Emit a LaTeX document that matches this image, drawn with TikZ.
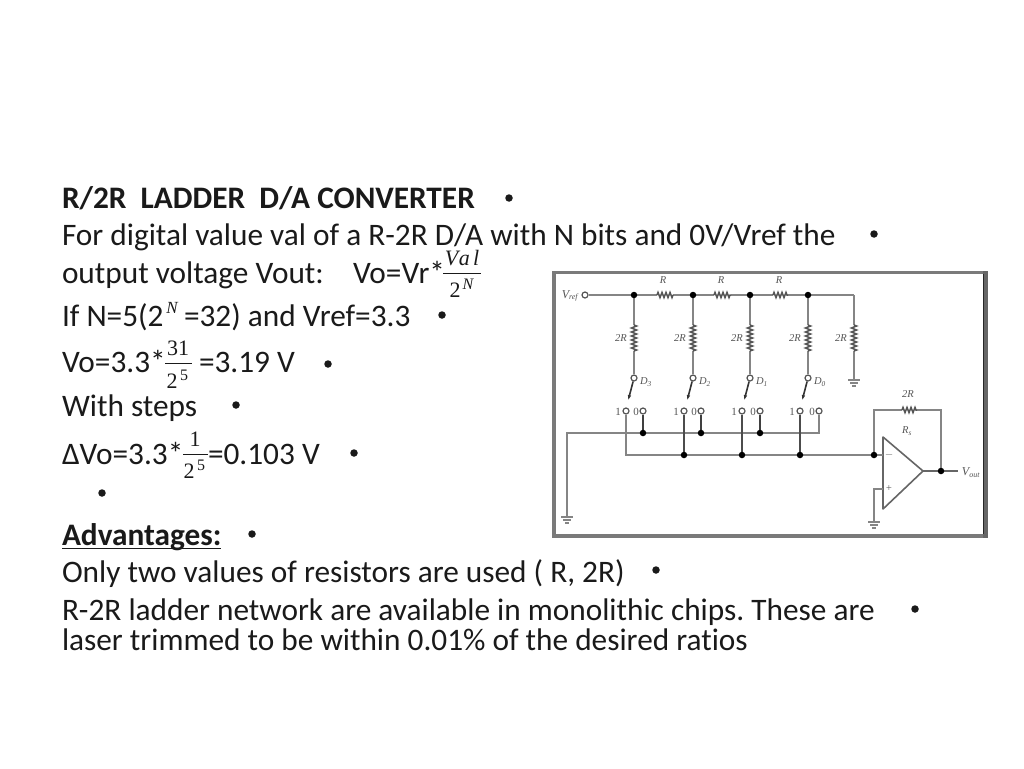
\documentclass[tikz,border=0pt]{standalone}
\usepackage{fontspec}
\setmainfont[Ligatures=NoCommon]{Carlito}
\newfontfamily\mathfont{Liberation Serif}
\newfontfamily\mathspaced[LetterSpace=14]{Liberation Serif}
\usetikzlibrary{decorations.pathmorphing,arrows.meta}
\pgfdeclarelayer{front}
\pgfsetlayers{main,front}
\definecolor{txt}{HTML}{1A1A1A}
\definecolor{wire}{HTML}{858585}
\definecolor{lab}{HTML}{555555}
\frenchspacing
\tikzset{
  line/.style={anchor=base west,inner sep=0pt,outer sep=0pt,text=txt,font=\fontsize{31.3}{33}\selectfont},
  boldline/.style={line,font=\bfseries\fontsize{31.3}{33}\selectfont},
  mth/.style={anchor=base,inner sep=0pt,outer sep=0pt,text=txt,font=\mathfont\fontsize{22}{23}\selectfont},
  bul/.style={circle,fill=txt,inner sep=0pt,minimum size=7.5pt},
  fbar/.style={draw=txt,line width=1pt},
  wr/.style={draw=wire,line width=1.7pt},
  res/.style={draw=lab,line width=1.5pt,decorate,decoration={zigzag,amplitude=2.6pt,segment length=4pt}},
  dotn/.style={circle,fill=black,inner sep=0pt,minimum size=6.5pt},
  term/.style={circle,draw=lab,fill=white,line width=1.2pt,inner sep=0pt,minimum size=6pt},
  clab/.style={inner sep=0pt,text=lab,font=\mathfont\itshape\fontsize{10.5}{11}\selectfont},
  dlab/.style={inner sep=0pt,text=lab,font=\mathfont\fontsize{11}{11}\selectfont},
  arm/.style={draw=black!80,line width=1.6pt},
  gnd/.style={draw=wire,line width=1.3pt}
}
\begin{document}
\begin{tikzpicture}[x=1pt,y=-1pt]
\useasboundingbox[fill=white] (0,0) rectangle (1024,768);
% text
\node[boldline] (t1) at (62,208) {R/2R\ \ LADDER\ \ D/A CONVERTER};
\node[line] (t2) at (62,245) {For digital value val of a R-2R D/A with N bits and 0V/Vref the};
\node[line] (t3) at (62,283) {output voltage Vout:};
\node[line] (t3b) at (353,283) {Vo=Vr*};
\node[line] (t4) at (62,326) {If N=5(2};
\node[mth,font=\mathfont\itshape\fontsize{17}{18}\selectfont] (t4n) at (172,313) {N};
\node[line] (t4b) at (184,326) {=32) and Vref=3.3};
\node[line] (t5) at (62,372) {Vo=3.3*};
\node[line] (t5b) at (199,372) {=3.19 V};
\node[line] (t6) at (62,416) {With steps};
\node[line] (t7) at (62,464) {ΔVo=3.3*};
\node[line] (t7b) at (208,464) {=0.103 V};
\node[boldline] (t8) at (62,545) {Advantages:};
\draw[txt,line width=1.4pt] ([yshift=-3.5pt]t8.base west) -- ([yshift=-3.5pt]t8.base east);
\node[line] (t9) at (62,582) {Only two values of resistors are used ( R, 2R)};
\node[line] (t10) at (62,620) {R-2R ladder network are available in monolithic chips. These are};
\node[line] (t11) at (62,650) {laser trimmed to be within 0.01\% of the desired ratios};
% fractions
\node[mth,font=\mathspaced\itshape\fontsize{22}{23}\selectfont] (f1a) at (462,265) {Val};
\draw[fbar] (443,273) -- (481,273);
\node[mth] (f1b) at (455,297) {2};
\node[mth,font=\mathfont\itshape\fontsize{16}{16}\selectfont] (f1c) at (468,289) {N};
\node[mth] (f2a) at (178,355) {31};
\draw[fbar] (165,363) -- (192,363);
\node[mth] (f2b) at (172,388) {2};
\node[mth,font=\mathfont\fontsize{16}{16}\selectfont] (f2c) at (184,380) {5};
\node[mth] (f3a) at (195,446) {1};
\draw[fbar] (183,454) -- (208,454);
\node[mth] (f3b) at (189,478) {2};
\node[mth,font=\mathfont\fontsize{16}{16}\selectfont] (f3c) at (201,470) {5};
% bullets
\foreach \n/\x/\y in {a/509/198,b/874/234,c/442/315,d/328/364,e/236/405,f/354/453,g/102/493,h/252/534,i/656/570,j/915/609}
  \node[bul] (b\n) at (\x,\y) {};
% frame
\fill[black!52] (552,271) rectangle (988,274);
\fill[black!52] (552,271) rectangle (556,538);
\fill[black!52] (552,534) rectangle (988,538);
\fill[black!60] (983,271) rectangle (988,538);
\draw[black!85,line width=0.8pt] (983,274) -- (983,534);
% nodes on top of wires
\begin{pgfonlayer}{front}
\node[dotn] (n3) at (634,295) {};
\node[dotn] (n2) at (693,295) {};
\node[dotn] (n1) at (750,295) {};
\node[dotn] (n0) at (808,295) {};
\node[dotn] (d3) at (643,433) {};
\node[dotn] (d2) at (701,433) {};
\node[dotn] (d1) at (760,433) {};
\node[dotn] (e2) at (684,455) {};
\node[dotn] (e1) at (742,455) {};
\node[dotn] (e0) at (800,455) {};
\node[dotn] (e4) at (874,455) {};
\node[dotn] (e5) at (941,471) {};
\end{pgfonlayer}
% top rail
\node[term] (vr) at (585,295) {};
\coordinate (nt) at (854,295);
\draw[wr] (vr) -- (n3);
\draw[wr] (n3) -- (657,295) (673,295) -- (n2) -- (714,295) (731,295) -- (n1) -- (773,295) (788,295) -- (n0) -- (nt);
\draw[res] (657,295) -- (673,295);
\draw[res] (714,295) -- (731,295);
\draw[res] (773,295) -- (788,295);
\node[clab,font=\mathfont\itshape\fontsize{12}{12}\selectfont] (vl) at (570,296) {V\textsubscript{ref}};
\node[clab] (r1) at (663,280) {R};
\node[clab] (r2) at (721,280) {R};
\node[clab] (r3) at (779,280) {R};
% vertical branches
\foreach \i/\x/\lb in {3/634/3,2/693/2,1/750/1,0/808/0}{
  \node[term] (s\i) at (\x,378) {};
  \draw[wr] (n\i) -- (\x,325) (\x,351) -- (s\i);
  \draw[res] (\x,325) -- (\x,351);
  \node[clab] (q\i) at (\x-13,338) {2R};
  \node[clab] (dl\i) at (\x+12,382) {D\textsubscript{\lb}};
}
\draw[wr] (nt) -- (854,325) (854,351) -- (854,380);
\draw[res] (854,325) -- (854,351);
\node[clab] (q4) at (841,338) {2R};
% contacts and switch arms
\foreach \i/\x/\xa/\xb in {3/634/626/643,2/693/684/701,1/750/742/760,0/808/800/819}{
  \node[term] (c\i) at (\xa,411) {};
  \node[term] (o\i) at (\xb,411) {};
  \node[dlab] (la\i) at (\xa-8,412) {1};
  \node[dlab] (lb\i) at (\xb-7,412) {0};
  \draw[arm,-{Latex[length=6pt,width=3.5pt]}] (s\i) -- (\x-6,401);
}
% rails
\coordinate (lg) at (567,433);
\coordinate (lgb) at (567,517);
\coordinate (r1e) at (819,433);
\coordinate (r2s) at (626,455);
\draw[wr] (lgb) -- (lg) -- (r1e) -- (o0);
\draw[wr] (c3) -- (r2s) -- (e4);
\draw[wr,draw=black!75] (o3) -- (d3) (o2) -- (d2) (o1) -- (d1);
\draw[wr,draw=black!70] (c2) -- (e2) (c1) -- (e1) (c0) -- (e0);
% op amp
\coordinate (a1) at (883,437);
\coordinate (a2) at (883,509);
\coordinate (a3) at (923,471);
\draw[draw=black!60,line width=1.6pt,fill=white,line join=round] (a1) -- (a3) -- (a2) -- cycle;
\coordinate (ain) at (883,455);
\coordinate (aip) at (883,489);
\draw[wr] (e4) -- (ain);
\coordinate (vo) at (958,471);
\draw[wr,draw=black!60] (a3) -- (e5) -- (vo);
\coordinate (fa) at (874,410);
\coordinate (fb) at (941,410);
\draw[wr] (e4) -- (fa) -- (902,410) (917,410) -- (fb) -- (e5);
\draw[res] (902,410) -- (917,410);
\node[clab] (fr) at (908,394) {2R};
\node[clab] (rs) at (907,431) {R\textsubscript{s}};
\node[clab,font=\mathfont\itshape\fontsize{12}{12}\selectfont] (vout) at (971,473) {V\textsubscript{out}};
\node[clab] (am) at (889,455) {$-$};
\node[clab] (ap) at (889,489) {+};
\coordinate (g2) at (874,489);
\coordinate (g2b) at (874,522);
\draw[wr] (aip) -- (g2) -- (g2b);
% grounds
\foreach \x/\y in {567/517,874/522,854/380}{
  \draw[gnd] (\x-6,\y) -- (\x+6,\y);
  \draw[gnd] (\x-4,\y+3) -- (\x+4,\y+3);
  \draw[gnd] (\x-2,\y+6) -- (\x+2,\y+6);
}
\end{tikzpicture}
\end{document}
